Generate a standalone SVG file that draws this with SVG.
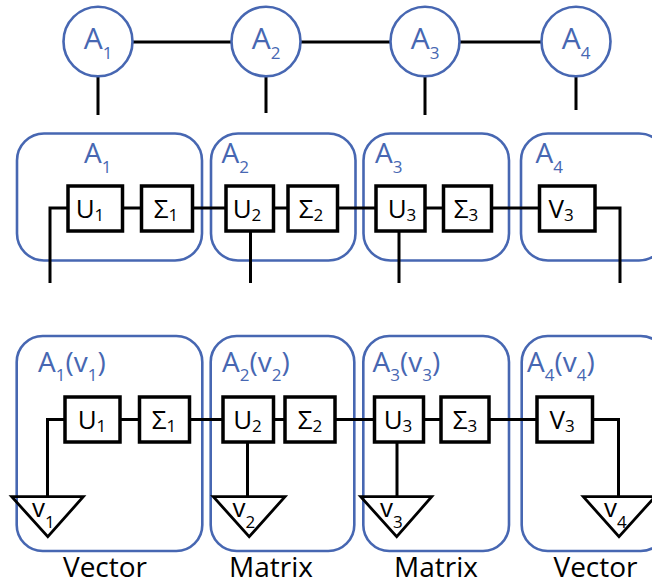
<svg xmlns="http://www.w3.org/2000/svg" width="652" height="586" viewBox="0 0 652 586">
  <style>
    text { font-family: "Open Sans", "Liberation Sans", sans-serif; }
    .blue { fill: none; stroke: #4767B2; stroke-width: 2.6; }
    .circ { fill: #fff; stroke: #4767B2; stroke-width: 2.6; }
    .lab { fill: #4767B2; }
    .wire { fill: none; stroke: #000; stroke-width: 3; }
    .sq { fill: #fff; stroke: #000; stroke-width: 3.5; }
    .tri { fill: none; stroke: #000; stroke-width: 2.8; }
    .t { fill: #000; font-size: 26px; }
    .mid { text-anchor: middle; }
    .cap { fill: #000; font-size: 28px; text-anchor: middle; }
  </style>
  <rect x="0" y="0" width="652" height="586" fill="#fff"/>

  <!-- row 1: tensor train cores -->
  <g id="chain-wires">
    <path class="wire" d="M98,42 H576"/>
    <path class="wire" d="M98,76 V115 M266,76 V113 M425,76 V115 M576,76 V110"/>
  </g>
  <g id="core-A1"><ellipse class="circ" cx="98" cy="41.5" rx="34.5" ry="34.8"/>
    <text class="lab mid" x="98" y="49" font-size="30">A<tspan font-size="17" dy="10">1</tspan></text></g>
  <g id="core-A2"><ellipse class="circ" cx="266" cy="41.5" rx="34.5" ry="34.8"/>
    <text class="lab mid" x="266" y="49" font-size="30">A<tspan font-size="17" dy="10">2</tspan></text></g>
  <g id="core-A3"><ellipse class="circ" cx="425" cy="41.5" rx="34.5" ry="34.8"/>
    <text class="lab mid" x="425" y="49" font-size="30">A<tspan font-size="17" dy="10">3</tspan></text></g>
  <g id="core-A4"><ellipse class="circ" cx="576" cy="41.5" rx="34.5" ry="34.8"/>
    <text class="lab mid" x="576" y="49" font-size="30">A<tspan font-size="17" dy="10">4</tspan></text></g>

  <!-- row 2: cores split into U and Sigma factors -->
  <g id="group-A1"><rect class="blue" x="17" y="133.5" width="185" height="127" rx="27"/>
    <text class="lab" x="84" y="163" font-size="28">A<tspan font-size="17" dy="10">1</tspan></text></g>
  <g id="group-A2"><rect class="blue" x="211" y="133.5" width="144.5" height="127" rx="27"/>
    <text class="lab" x="221.5" y="163" font-size="28">A<tspan font-size="17" dy="10">2</tspan></text></g>
  <g id="group-A3"><rect class="blue" x="363.5" y="133.5" width="145.5" height="127" rx="27"/>
    <text class="lab" x="375" y="163" font-size="28">A<tspan font-size="17" dy="10">3</tspan></text></g>
  <g id="group-A4"><rect class="blue" x="521" y="133.5" width="145" height="127" rx="27"/>
    <text class="lab" x="535.5" y="163" font-size="28">A<tspan font-size="17" dy="10">4</tspan></text></g>

  <g id="split-wires">
    <path class="wire" d="M50,283 V208 H620 V283"/>
    <path class="wire" d="M250.5,231 V283 M399,231 V283"/>
  </g>
  <g id="U1a"><rect class="sq" x="68" y="186" width="54.5" height="45"/>
    <text class="t mid" x="90" y="218">U<tspan font-size="17" dy="3">1</tspan></text></g>
  <g id="S1a"><rect class="sq" x="141.5" y="186" width="51" height="45"/>
    <text class="t mid" x="166" y="218">Σ<tspan font-size="17" dy="3">1</tspan></text></g>
  <g id="U2a"><rect class="sq" x="226" y="186" width="47.5" height="45"/>
    <text class="t mid" x="247" y="218">U<tspan font-size="17" dy="3">2</tspan></text></g>
  <g id="S2a"><rect class="sq" x="288" y="186" width="49.5" height="45"/>
    <text class="t mid" x="311" y="218">Σ<tspan font-size="17" dy="3">2</tspan></text></g>
  <g id="U3a"><rect class="sq" x="376" y="186" width="49" height="45"/>
    <text class="t mid" x="402" y="218">U<tspan font-size="17" dy="3">3</tspan></text></g>
  <g id="S3a"><rect class="sq" x="443.5" y="186" width="48" height="45"/>
    <text class="t mid" x="466" y="218">Σ<tspan font-size="17" dy="3">3</tspan></text></g>
  <g id="V3a"><rect class="sq" x="539.5" y="186" width="55.5" height="45"/>
    <text class="t mid" x="561" y="218">V<tspan font-size="17" dy="3">3</tspan></text></g>

  <!-- row 3: contraction with vectors -->
  <g id="group-A1v1"><rect class="blue" x="16.7" y="336" width="185.6" height="215" rx="26"/>
    <text class="lab" x="38" y="372" font-size="28">A<tspan font-size="17" dy="9">1</tspan><tspan dy="-9">(v</tspan><tspan font-size="17" dy="9">1</tspan><tspan dy="-9">)</tspan></text></g>
  <g id="group-A2v2"><rect class="blue" x="210.7" y="336" width="143.6" height="215" rx="26"/>
    <text class="lab" x="222" y="372" font-size="28">A<tspan font-size="17" dy="9">2</tspan><tspan dy="-9">(v</tspan><tspan font-size="17" dy="9">2</tspan><tspan dy="-9">)</tspan></text></g>
  <g id="group-A3v3"><rect class="blue" x="363.3" y="336" width="145.7" height="215" rx="26"/>
    <text class="lab" x="372.5" y="372" font-size="28">A<tspan font-size="17" dy="9">3</tspan><tspan dy="-9">(v</tspan><tspan font-size="17" dy="9">3</tspan><tspan dy="-9">)</tspan></text></g>
  <g id="group-A4v4"><rect class="blue" x="521.7" y="336" width="145" height="215" rx="26"/>
    <text class="lab" x="527" y="372" font-size="28">A<tspan font-size="17" dy="9">4</tspan><tspan dy="-9">(v</tspan><tspan font-size="17" dy="9">4</tspan><tspan dy="-9">)</tspan></text></g>

  <g id="contract-wires">
    <path class="wire" d="M47.5,497 V419.5 H618.5 V497"/>
    <path class="wire" d="M247.5,442 V497 M397,442 V497"/>
  </g>
  <g id="U1b"><rect class="sq" x="65" y="397" width="55" height="45"/>
    <text class="t mid" x="92" y="429">U<tspan font-size="17" dy="3">1</tspan></text></g>
  <g id="S1b"><rect class="sq" x="139.5" y="397" width="50" height="45"/>
    <text class="t mid" x="164" y="429">Σ<tspan font-size="17" dy="3">1</tspan></text></g>
  <g id="U2b"><rect class="sq" x="223" y="397" width="50.5" height="45"/>
    <text class="t mid" x="247.5" y="429">U<tspan font-size="17" dy="3">2</tspan></text></g>
  <g id="S2b"><rect class="sq" x="285" y="397" width="50" height="45"/>
    <text class="t mid" x="310" y="429">Σ<tspan font-size="17" dy="3">2</tspan></text></g>
  <g id="U3b"><rect class="sq" x="374.5" y="397" width="49" height="45"/>
    <text class="t mid" x="398" y="429">U<tspan font-size="17" dy="3">3</tspan></text></g>
  <g id="S3b"><rect class="sq" x="441" y="397" width="48" height="45"/>
    <text class="t mid" x="465" y="429">Σ<tspan font-size="17" dy="3">3</tspan></text></g>
  <g id="V3b"><rect class="sq" x="537" y="397" width="55.5" height="45"/>
    <text class="t mid" x="562" y="429">V<tspan font-size="17" dy="3">3</tspan></text></g>

  <g id="vec-v1"><polygon class="tri" points="11.7,496.7 83.3,496.7 47.8,536.7"/>
    <text class="t" x="32" y="517">v<tspan font-size="17" dy="11">1</tspan></text></g>
  <g id="vec-v2"><polygon class="tri" points="213.3,496.7 285,496.7 249.2,536.7"/>
    <text class="t" x="232.5" y="517">v<tspan font-size="17" dy="11">2</tspan></text></g>
  <g id="vec-v3"><polygon class="tri" points="360.7,496.7 431.7,496.7 396.7,536.7"/>
    <text class="t" x="380" y="517">v<tspan font-size="17" dy="11">3</tspan></text></g>
  <g id="vec-v4"><polygon class="tri" points="583.3,496.7 655,496.7 619,536.7"/>
    <text class="t" x="604" y="517">v<tspan font-size="17" dy="11">4</tspan></text></g>

  <g id="captions">
    <text class="cap" x="105" y="577">Vector</text>
    <text class="cap" x="271" y="577">Matrix</text>
    <text class="cap" x="436" y="577">Matrix</text>
    <text class="cap" x="595.5" y="577">Vector</text>
  </g>
</svg>
